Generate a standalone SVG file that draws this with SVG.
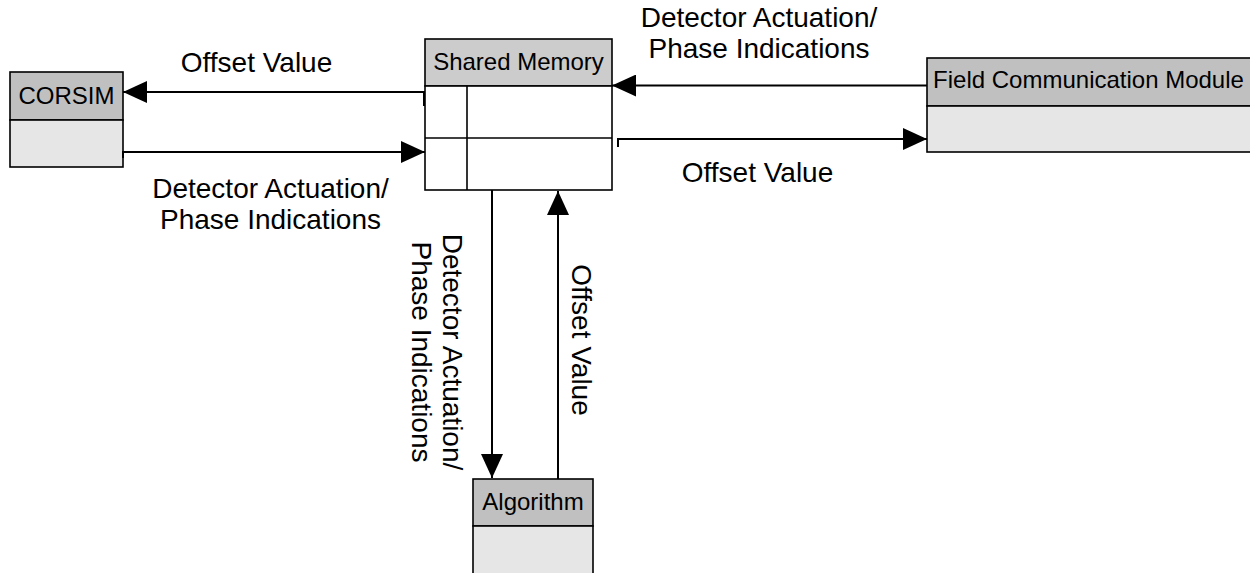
<svg xmlns="http://www.w3.org/2000/svg" width="1250" height="573" viewBox="0 0 1250 573">
  <defs>
    <marker id="arr" markerUnits="userSpaceOnUse" markerWidth="24" markerHeight="22" refX="24" refY="11" orient="auto">
      <path d="M0,0 L24,11 L0,22 Z" fill="#000"/>
    </marker>
    <style>
      .box { stroke: #000; stroke-width: 1.6; }
      .hdr { fill: #c0c0c0; }
      .hdr2 { fill: #cccccc; }
      .body { fill: #e6e6e6; }
      .white { fill: #ffffff; }
      .ht { font-family: "Liberation Sans", Arial, sans-serif; font-size: 24px; fill: #000; text-anchor: middle; }
      .lbl { font-family: "Liberation Sans", Arial, sans-serif; font-size: 28px; fill: #000; text-anchor: middle; }
      .con { fill: none; stroke: #000; stroke-width: 2; }
    </style>
  </defs>
  <rect width="1250" height="573" fill="#fff"/>

  <g id="corsim">
    <rect class="box hdr" x="10" y="72" width="113" height="48"/>
    <rect class="box body" x="10" y="120" width="113" height="47"/>
    <text class="ht" x="66.5" y="103.5">CORSIM</text>
  </g>

  <g id="shared-memory">
    <rect class="box hdr2" x="425" y="39" width="187" height="47"/>
    <rect class="box white" x="425" y="86" width="187" height="104"/>
    <line class="box" x1="425" y1="138" x2="612" y2="138"/>
    <line class="box" x1="467" y1="86" x2="467" y2="190"/>
    <text class="ht" x="518.5" y="69.5">Shared Memory</text>
  </g>

  <g id="field-communication-module">
    <rect class="box hdr" x="927" y="58" width="325" height="48"/>
    <rect class="box body" x="927" y="106" width="325" height="46"/>
    <text class="ht" x="1088.5" y="87.5">Field Communication Module</text>
  </g>

  <g id="algorithm">
    <rect class="box hdr" x="473" y="479" width="120" height="47"/>
    <rect class="box body" x="473" y="526" width="120" height="50"/>
    <text class="ht" x="533" y="510">Algorithm</text>
  </g>

  <g id="connectors">
    <path class="con" d="M424,106 L424,92 L123,92" marker-end="url(#arr)"/>
    <path class="con" d="M123,158 L123,152 L425,152" marker-end="url(#arr)"/>
    <path class="con" d="M927,85.5 L612,85.5" marker-end="url(#arr)"/>
    <path class="con" d="M618,147 L618,139 L927,139" marker-end="url(#arr)"/>
    <path class="con" d="M492,190 L492,478" marker-end="url(#arr)"/>
    <path class="con" d="M558,479 L558,191" marker-end="url(#arr)"/>
  </g>

  <g id="labels">
    <text class="lbl" x="256.5" y="72">Offset Value</text>
    <text class="lbl" x="759" y="27">Detector Actuation/</text>
    <text class="lbl" x="759" y="58">Phase Indications</text>
    <text class="lbl" x="270.5" y="198">Detector Actuation/</text>
    <text class="lbl" x="270.5" y="229">Phase Indications</text>
    <text class="lbl" x="757.5" y="182">Offset Value</text>
    <g transform="translate(443,352) rotate(90)">
      <text class="lbl" x="0" y="0">Detector Actuation/</text>
      <text class="lbl" x="0" y="31">Phase Indications</text>
    </g>
    <text class="lbl" transform="translate(572,340) rotate(90)" x="0" y="0">Offset Value</text>
  </g>
</svg>
